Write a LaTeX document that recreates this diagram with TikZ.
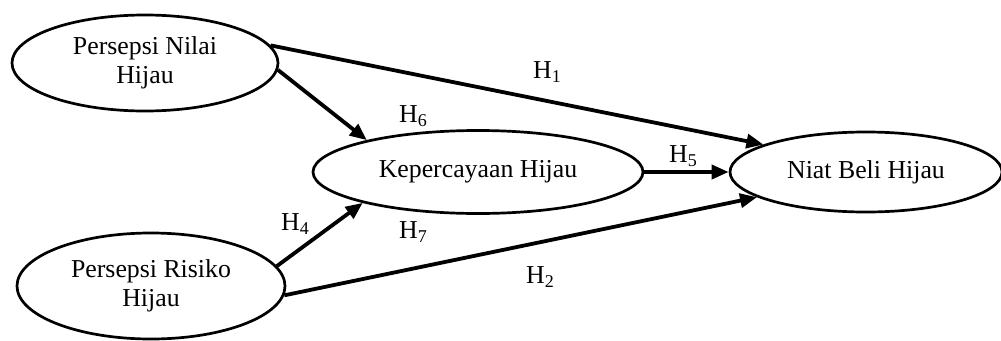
\documentclass[tikz,border=0pt]{standalone}
\usepackage{fontspec}
\setmainfont{Liberation Serif}
\usetikzlibrary{shapes.geometric,arrows.meta}
\newcommand\hyp[1]{H\raisebox{-0.3ex}{\fontsize{18}{18}\selectfont #1}}
\tikzset{
  var/.style={ellipse, draw, line width=2.7pt, inner sep=0pt, align=center,
    font=\fontsize{25.8}{28.5}\selectfont},
  path/.style={line width=3.8pt, -{Triangle[length=17pt,width=14pt]}},
  lab/.style={font=\fontsize{25.8}{28.5}\selectfont, inner sep=0pt}
}
\begin{document}
\begin{tikzpicture}[x=1pt,y=-1pt]
\useasboundingbox (0,0) rectangle (1001,340);
\node[var, minimum width=266pt, minimum height=96pt] (pn) at (145,63) {Persepsi Nilai\\Hijau};
\node[var, minimum width=330pt, minimum height=83pt] (kh) at (478,172) {Kepercayaan Hijau};
\node[var, minimum width=272pt, minimum height=80pt] (nb) at (866,172) {Niat Beli Hijau};
\node[var, minimum width=268pt, minimum height=106pt] (pr) at (151,286) {Persepsi Risiko\\Hijau};
\draw[path] (pn.8) -- (nb.165);
\draw[path] (pn.-3) -- (kh.164);
\draw[path] (kh.east) -- (nb.west);
\draw[path] (pr.9) -- (kh.195);
\draw[path] (pr.-4) -- (nb.193);
\node[lab] (h1) at (547,72) {\hyp{1}};
\node[lab] (h6) at (413,116) {\hyp{6}};
\node[lab] (h5) at (683,156) {\hyp{5}};
\node[lab] (h7) at (413,232) {\hyp{7}};
\node[lab] (h4) at (295,224) {\hyp{4}};
\node[lab] (h2) at (540,277) {\hyp{2}};
\end{tikzpicture}
\end{document}
